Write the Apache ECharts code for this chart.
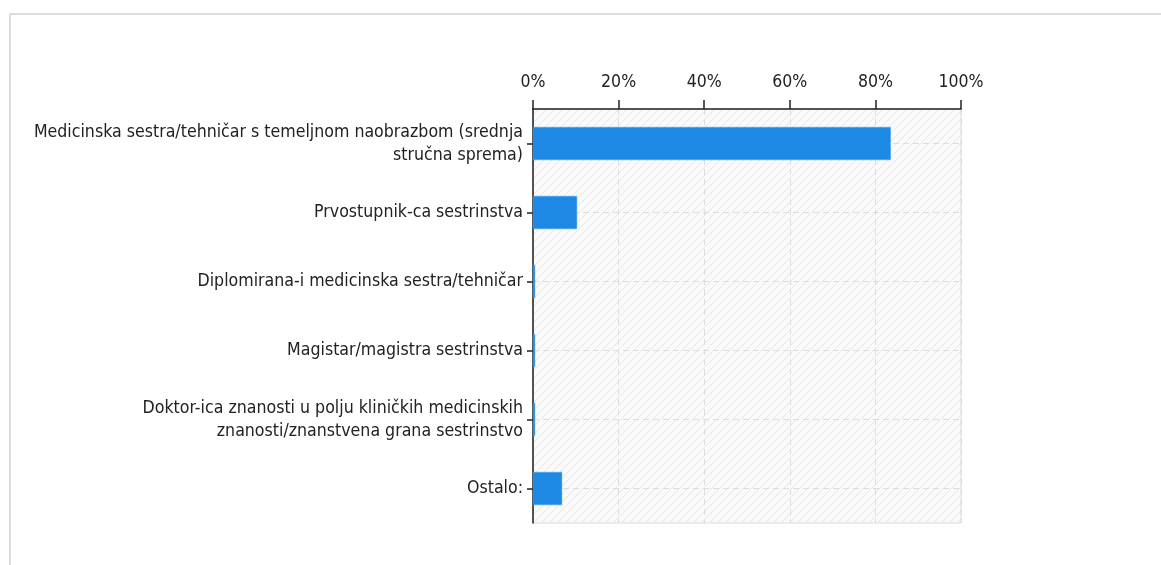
<!DOCTYPE html>
<html>
<head>
<meta charset="utf-8">
<script src="https://cdn.jsdelivr.net/npm/echarts@6/dist/echarts.min.js"></script>
<style>
html, body { margin: 0; padding: 0; background: #fff; }
#frame {
  position: absolute; left: 9px; top: 13px; width: 1152px; height: 552px;
  border-left: 2px solid #dcdcdc; border-top: 2px solid #dcdcdc;
}
#myChart { position: absolute; left: 0; top: 0; width: 1161px; height: 565px; }
</style>
</head>
<body>
<div id="frame"></div>
<div id="myChart"></div>
<script>
const categories = [
  'Medicinska sestra/tehničar s temeljnom naobrazbom (srednja\nstručna sprema)',
  'Prvostupnik-ca sestrinstva',
  'Diplomirana-i medicinska sestra/tehničar',
  'Magistar/magistra sestrinstva',
  'Doktor-ica znanosti u polju kliničkih medicinskih\nznanosti/znanstvena grana sestrinstvo',
  'Ostalo:'
];
const percentValues = [83.6, 10.3, 0.5, 0.5, 0.5, 6.8];
const xTicks = [0, 20, 40, 60, 80, 100];

// hatch pattern for plot background
function makeHatch () {
  const c = document.createElement('canvas');
  c.width = 8; c.height = 8;
  const g = c.getContext('2d');
  g.fillStyle = '#fafafa';
  g.fillRect(0, 0, 8, 8);
  g.strokeStyle = '#e6e6e6';
  g.lineWidth = 1;
  g.beginPath();
  g.moveTo(0, 8); g.lineTo(8, 0);
  g.moveTo(-4, 4); g.lineTo(4, -4);
  g.moveTo(4, 12); g.lineTo(12, 4);
  g.stroke();
  return c;
}

const font = '"DejaVu Sans Condensed", "DejaVu Sans", sans-serif';
const myChart = echarts.init(document.getElementById('myChart'));
myChart.setOption({
  animation: false,
  backgroundColor: 'transparent',
  grid: {
    left: 533, top: 109, right: 200, bottom: 42,
    show: true,
    backgroundColor: { image: makeHatch(), repeat: 'repeat' },
    borderColor: '#dddddd',
    borderWidth: 1
  },
  xAxis: {
    type: 'value',
    position: 'top',
    min: xTicks[0],
    max: xTicks[xTicks.length - 1],
    interval: 20,
    axisLine: { show: true, lineStyle: { color: '#222', width: 1.5 } },
    axisTick: { show: true, length: 9, lineStyle: { color: '#222', width: 1.5 } },
    axisLabel: {
      formatter: '{value}%', margin: 18,
      fontFamily: font, fontSize: 17.5, color: '#222'
    },
    splitLine: { show: true, lineStyle: { color: '#dcdcdc', type: [6, 4] } }
  },
  yAxis: {
    type: 'category',
    inverse: true,
    data: categories,
    axisLine: { show: true, lineStyle: { color: '#222', width: 1.5 } },
    axisTick: { show: true, alignWithLabel: true, length: 6, lineStyle: { color: '#222', width: 1.5 } },
    axisLabel: {
      margin: 10, fontFamily: font, fontSize: 17.6, lineHeight: 23,
      color: '#222', align: 'right'
    },
    splitLine: { show: true, alignWithLabel: true, lineStyle: { color: '#dcdcdc', type: [6, 4] } }
  },
  series: [{
    type: 'bar',
    data: percentValues,
    barWidth: '48%',
    itemStyle: { color: '#1e88e5', borderColor: '#4aa0ec', borderWidth: 0.5 }
  }]
});
</script>
</body>
</html>
